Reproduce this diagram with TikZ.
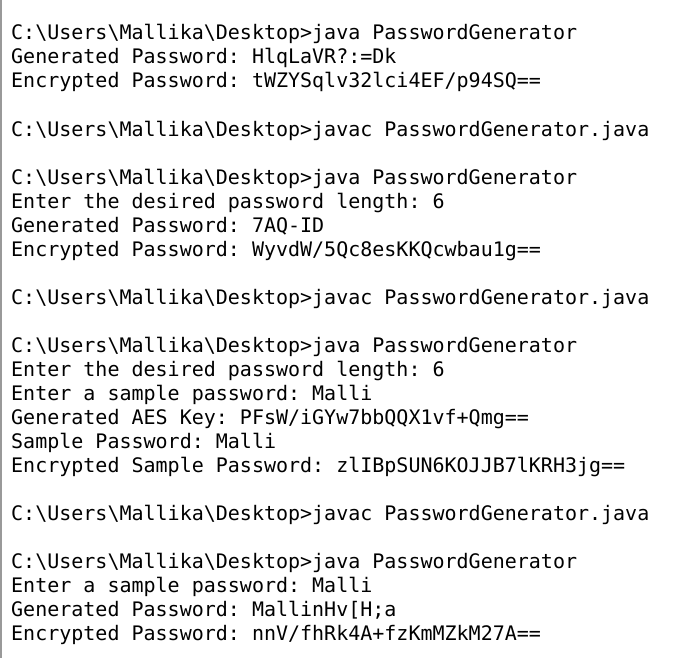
\documentclass[tikz,border=0pt]{standalone}
\usepackage{fontspec}
\setmonofont{DejaVu Sans Mono}
\newcommand{\bs}{\textbackslash{}}
\begin{document}
\begin{tikzpicture}[x=1pt,y=-1pt,
  ln/.style={anchor=base west,inner sep=0pt,font=\ttfamily\fontsize{20}{24}\selectfont,text=black}]
\useasboundingbox (0,0) rectangle (677,658);
\fill[white] (0,0) rectangle (677,658);
\draw[gray!80,line width=1.2pt] (1,0) -- (1,658);
\node[ln] (l1) at (11,40) {C:\bs Users\bs Mallika\bs Desktop>java PasswordGenerator};
\node[ln] (l2) at (11,64) {Generated Password: HlqLaVR?:=Dk};
\node[ln] (l3) at (11,88) {Encrypted Password: tWZYSqlv32lci4EF/p94SQ==};
\node[ln] (l5) at (11,136) {C:\bs Users\bs Mallika\bs Desktop>javac PasswordGenerator.java};
\node[ln] (l7) at (11,184) {C:\bs Users\bs Mallika\bs Desktop>java PasswordGenerator};
\node[ln] (l8) at (11,208) {Enter the desired password length: 6};
\node[ln] (l9) at (11,232) {Generated Password: 7AQ-ID};
\node[ln] (l10) at (11,256) {Encrypted Password: WyvdW/5Qc8esKKQcwbau1g==};
\node[ln] (l12) at (11,304) {C:\bs Users\bs Mallika\bs Desktop>javac PasswordGenerator.java};
\node[ln] (l14) at (11,352) {C:\bs Users\bs Mallika\bs Desktop>java PasswordGenerator};
\node[ln] (l15) at (11,376) {Enter the desired password length: 6};
\node[ln] (l16) at (11,400) {Enter a sample password: Malli};
\node[ln] (l17) at (11,424) {Generated AES Key: PFsW/iGYw7bbQQX1vf+Qmg==};
\node[ln] (l18) at (11,448) {Sample Password: Malli};
\node[ln] (l19) at (11,472) {Encrypted Sample Password: zlIBpSUN6KOJJB7lKRH3jg==};
\node[ln] (l21) at (11,520) {C:\bs Users\bs Mallika\bs Desktop>javac PasswordGenerator.java};
\node[ln] (l23) at (11,568) {C:\bs Users\bs Mallika\bs Desktop>java PasswordGenerator};
\node[ln] (l24) at (11,592) {Enter a sample password: Malli};
\node[ln] (l25) at (11,616) {Generated Password: MallinHv[H;a};
\node[ln] (l26) at (11,640) {Encrypted Password: nnV/fhRk4A+fzKmMZkM27A==};
\end{tikzpicture}
\end{document}
